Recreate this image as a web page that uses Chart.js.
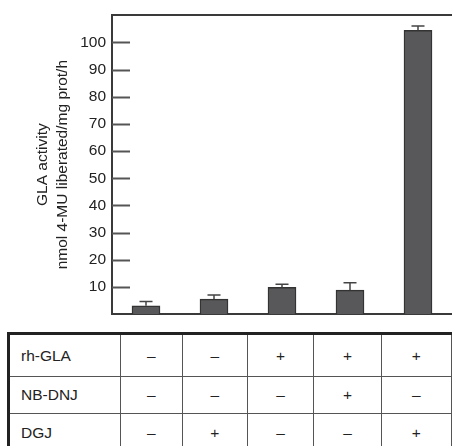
<!DOCTYPE html>
<html>
<head>
<meta charset="utf-8">
<script src="https://cdn.jsdelivr.net/npm/chart.js@4"></script>
<style>
  html, body { margin: 0; padding: 0; background: #fff; overflow: hidden; }
  body { width: 452px; height: 446px; position: relative; font-family: "Liberation Sans", Arial, sans-serif; }
  #chart { position: absolute; left: 0; top: 0; }
  #conditions {
    position: absolute; left: 7px; top: 332px;
    border-collapse: collapse; table-layout: fixed;
    font-size: 15.5px; color: #222;
  }
  #conditions td {
    border: 1.5px solid #555; padding: 0; text-align: center; color: #222;
  }
  #conditions tr:first-child td { border-top: 3px solid #222; }
  #conditions td:first-child { border-left: 3px solid #222; text-align: left; padding-left: 11px; }
  #conditions tr:nth-child(1) td { height: 41px; }
  #conditions tr:nth-child(2) td { height: 36px; }
  #conditions tr:nth-child(3) td { height: 38px; }
</style>
</head>
<body>
<canvas id="chart" width="452" height="330"></canvas>
<table id="conditions">
  <colgroup>
    <col style="width:114px"><col style="width:63px"><col style="width:67px">
    <col style="width:68px"><col style="width:69px"><col style="width:72px">
  </colgroup>
  <tbody id="condition-rows"></tbody>
</table>
<script>
const groups = ['1', '2', '3', '4', '5'];
const activity = [3.0, 5.5, 9.8, 8.8, 104.5];
const activityErr = [1.6, 1.5, 1.2, 2.7, 1.6];
const yTicks = [10, 20, 30, 40, 50, 60, 70, 80, 90, 100];

const treatments = ['rh-GLA', 'NB-DNJ', 'DGJ'];
const rhGla = ['–', '–', '+', '+', '+'];
const nbDnj = ['–', '–', '–', '+', '–'];
const dgj = ['–', '+', '–', '–', '+'];

const rows = document.getElementById('condition-rows');
[rhGla, nbDnj, dgj].forEach((signs, i) => {
  const tr = document.createElement('tr');
  const head = document.createElement('td');
  head.textContent = treatments[i];
  tr.appendChild(head);
  signs.forEach((s) => {
    const td = document.createElement('td');
    td.textContent = s;
    tr.appendChild(td);
  });
  rows.appendChild(tr);
});

const FONT = '"Liberation Sans", Arial, sans-serif';
const AXIS = '#3a3a3a';

// short tick marks drawn inward from the left axis, plus the error bars
const extras = {
  id: 'extras',
  afterDatasetsDraw(chart) {
    const { ctx, chartArea } = chart;
    const y = chart.scales.y;
    ctx.save();
    ctx.strokeStyle = '#555';
    ctx.lineWidth = 2;
    yTicks.forEach((v) => {
      const py = Math.round(y.getPixelForValue(v)) + 0.5;
      ctx.beginPath();
      ctx.moveTo(chartArea.left, py);
      ctx.lineTo(chartArea.left + 18, py);
      ctx.stroke();
    });

    ctx.strokeStyle = '#444';
    ctx.lineWidth = 1.5;
    chart.getDatasetMeta(0).data.forEach((bar, i) => {
      const top = y.getPixelForValue(activity[i]);
      const end = y.getPixelForValue(activity[i] + activityErr[i]);
      ctx.beginPath();
      ctx.moveTo(bar.x, top);
      ctx.lineTo(bar.x, end);
      ctx.moveTo(bar.x - 6.5, end);
      ctx.lineTo(bar.x + 6.5, end);
      ctx.stroke();
    });
    ctx.restore();
  }
};

new Chart(document.getElementById('chart'), {
  type: 'bar',
  data: {
    labels: groups,
    datasets: [{
      data: activity,
      backgroundColor: '#58585a',
      borderColor: '#333',
      borderWidth: 1.5,
      barThickness: 28
    }]
  },
  options: {
    responsive: false,
    animation: false,
    layout: { padding: { top: 13, bottom: 16, left: 0, right: 0 } },
    plugins: { legend: { display: false }, tooltip: { enabled: false } },
    scales: {
      x: {
        ticks: { display: false },
        grid: { display: false, drawTicks: false, tickLength: 0 },
        border: { display: true, color: AXIS, width: 2 }
      },
      x2: {
        type: 'category',
        labels: groups,
        position: 'top',
        ticks: { display: false },
        grid: { display: false, drawTicks: false, tickLength: 0 },
        border: { display: true, color: AXIS, width: 2 }
      },
      y: {
        min: 0,
        max: 110,
        afterBuildTicks: (s) => { s.ticks = yTicks.map((v) => ({ value: v })); },
        afterFit: (s) => { s.width = 112; },
        ticks: { color: '#222', padding: 6, font: { family: FONT, size: 15.5 } },
        grid: { display: false, drawTicks: false, tickLength: 0 },
        border: { display: true, color: AXIS, width: 2 },
        title: {
          display: true,
          text: ['GLA activity', 'nmol 4-MU liberated/mg prot/h'],
          color: '#222',
          font: { family: FONT, size: 15.5, lineHeight: 1.29 },
          padding: { top: 33, bottom: 0 }
        }
      }
    }
  },
  plugins: [extras]
});
</script>
</body>
</html>
